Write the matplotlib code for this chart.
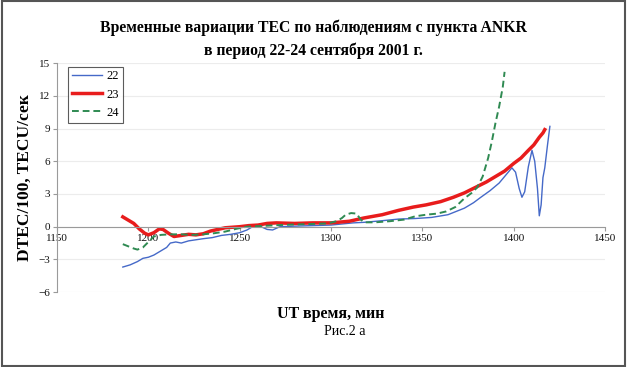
#!/usr/bin/env python

import matplotlib
matplotlib.use('Agg')
import matplotlib.pyplot as plt
from matplotlib.patches import Rectangle

# ==================================================================
# Serie 22
t22 = [1186, 1190, 1194, 1197, 1200, 1203, 1207, 1210, 1212, 1215, 1218, 1222,
       1226, 1230, 1235, 1240, 1245, 1250, 1254, 1257, 1261, 1265, 1268, 1272,
       1280, 1290, 1300, 1306, 1312, 1318, 1328, 1337, 1346, 1355, 1364, 1373,
       1378, 1382, 1387, 1392, 1396, 1399, 1401, 1403, 1404.5, 1406, 1408, 1410,
       1411.5, 1413, 1414, 1415, 1416, 1417, 1418.5, 1419.8]
v22 = [-3.7, -3.5, -3.2, -2.9, -2.8, -2.6, -2.2, -1.9, -1.5, -1.4, -1.5, -1.3,
       -1.2, -1.1, -1.0, -0.8, -0.7, -0.55, -0.3, 0.0, 0.05, -0.25, -0.3, 0.0,
       0.05, 0.1, 0.15, 0.25, 0.35, 0.4, 0.55, 0.7, 0.75, 0.85, 1.1, 1.7,
       2.2, 2.7, 3.3, 4.0, 4.8, 5.4, 5.0, 3.5, 2.7, 3.2, 5.5, 7.0,
       6.0, 3.5, 1.0, 2.0, 4.5, 5.4, 7.5, 9.2]

# Serie 23
t23 = [1186, 1189, 1192, 1195, 1198, 1200, 1203, 1206, 1208, 1211, 1214, 1218,
       1222, 1226, 1230, 1234, 1238, 1242, 1246, 1250, 1255, 1260, 1265, 1270,
       1280, 1290, 1300, 1310, 1318, 1328, 1337, 1345, 1352, 1360, 1367, 1373,
       1379, 1385, 1390, 1395, 1400, 1404, 1408, 1411, 1414, 1416, 1417]
v23 = [0.9, 0.6, 0.3, -0.2, -0.6, -0.75, -0.55, -0.2, -0.25, -0.6, -0.9, -0.8,
       -0.7, -0.75, -0.65, -0.4, -0.25, -0.1, -0.05, 0.0, 0.1, 0.15, 0.3, 0.35,
       0.3, 0.35, 0.35, 0.5, 0.8, 1.1, 1.5, 1.8, 2.0, 2.3, 2.7, 3.1,
       3.6, 4.1, 4.6, 5.1, 5.8, 6.3, 7.0, 7.5, 8.2, 8.6, 8.9]

# Serie 24
t24 = [1186, 1189, 1192, 1194, 1197, 1200, 1203, 1207, 1212, 1218, 1224, 1230,
       1236, 1242, 1248, 1254, 1260, 1266, 1272, 1280, 1290, 1298, 1303, 1306,
       1308, 1311, 1314, 1316, 1318, 1324, 1332, 1340, 1346, 1352, 1358, 1363,
       1368, 1373, 1377, 1380, 1383, 1386, 1388, 1390, 1392, 1394, 1395]
v24 = [-1.6, -1.8, -2.0, -2.1, -1.9, -1.4, -0.9, -0.75, -0.7, -0.7, -0.75, -0.7,
       -0.6, -0.45, -0.2, 0.0, 0.05, 0.1, 0.15, 0.2, 0.25, 0.3, 0.5, 0.8,
       1.1, 1.25, 1.2, 0.7, 0.4, 0.4, 0.5, 0.65, 0.95, 1.1, 1.2, 1.4,
       1.8, 2.6, 3.1, 3.6, 4.6, 6.3, 7.8, 9.5, 11.0, 12.8, 14.2]

TITLE = u'Временные вариации ТЕС по наблюдениям с пункта ANKR\nв период 22-24 сентября 2001 г.'
XTICKS = [1150, 1200, 1250, 1300, 1350, 1400, 1450]
YTICKS = [-6, -3, 0, 3, 6, 9, 12, 15]


# ==================================================================
def plot_tec(name):
    """ Grafica las tres series en out.png """
    plt.rcParams['font.family'] = ['Liberation Serif', 'DejaVu Serif']
    fig = plt.figure(figsize=(6.27, 3.67), dpi=100)
    ax = fig.add_axes([0.091, 0.204, 0.874, 0.624])

    ax.plot(t22, v22, color='#4569c8', lw=1.0, label='22')
    ax.plot(t23, v23, color='#e81c1c', lw=2.5, label='23')
    ax.plot(t24, v24, color='#2f8a52', lw=1.4, ls=(0, (3.5, 2)), label='24')

    ax.set_xlim(1150, 1450)
    ax.set_ylim(-6, 15)
    ax.set_xticks(XTICKS)
    ax.set_yticks(YTICKS)
    ax.yaxis.grid(True, color='#ececec', lw=0.8)
    ax.set_axisbelow(True)
    for s in ['top', 'right']:
        ax.spines[s].set_visible(False)
    ax.spines['bottom'].set_position(('data', 0))
    ax.spines['bottom'].set_color('#9a9a9a')
    ax.spines['left'].set_color('#9a9a9a')
    ax.tick_params(labelsize=8, colors='#9a9a9a', labelcolor='#111111',
                   length=3, width=0.8, pad=2)

    ax.set_ylabel('DTEC/100, TECU/сек', fontsize=12.5, fontweight='bold',
                  labelpad=4)
    fig.text(0.5, 0.893, TITLE, ha='center', va='center', fontsize=11.3,
             fontweight='bold', linespacing=1.45)
    fig.text(0.527, 0.145, 'UT время, мин', ha='center', va='center',
             fontsize=11.5, fontweight='bold')
    fig.text(0.55, 0.098, 'Рис.2 а', ha='center', va='center', fontsize=10)

    leg = ax.legend(loc='upper left', bbox_to_anchor=(0.02, 0.985),
                    fontsize=9, frameon=True, fancybox=False,
                    handlelength=2.4, handletextpad=0.4, borderpad=0.3,
                    labelspacing=0.5, borderaxespad=0)
    leg.get_frame().set_edgecolor('#333333')
    leg.get_frame().set_linewidth(0.8)

    fig.patches.append(Rectangle((0.003, 0.004), 0.994, 0.992,
                                 transform=fig.transFigure, fill=False,
                                 edgecolor='#555555', lw=1.5))
    fig.savefig(name, dpi=100)


# ==================================================================
if __name__ == '__main__':
    plot_tec('out.png')
